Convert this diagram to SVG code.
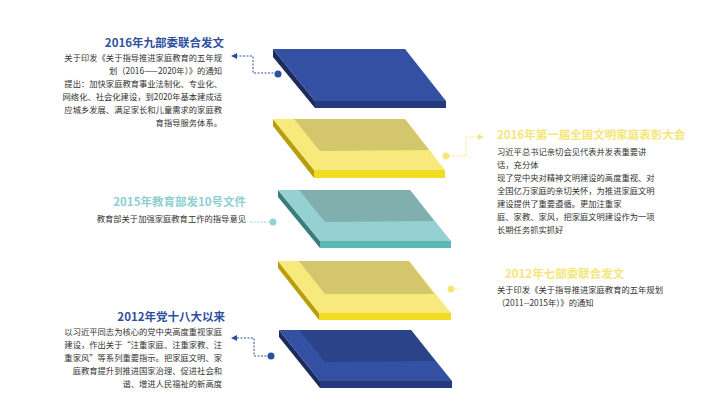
<svg xmlns="http://www.w3.org/2000/svg" width="720" height="405" viewBox="0 0 720 405">
<defs>
<style>
text{font-family:"Noto Sans CJK SC","Liberation Sans",sans-serif;}
.t{font-size:11.5px;font-weight:bold;}
.b{font-size:8.3px;fill:#333;}
.r{text-anchor:end;}
.dn{fill:none;stroke-width:1;stroke-dasharray:2,1.5;}
</style>
<marker id="an" markerWidth="6" markerHeight="6" refX="5" refY="3" orient="auto"><path d="M0,0L6,3L0,6z" fill="#2f4f9e"/></marker>
<marker id="ay" markerWidth="6" markerHeight="6" refX="5" refY="3" orient="auto"><path d="M0,0L6,3L0,6z" fill="#f5e67a"/></marker>
</defs>
<rect width="720" height="405" fill="#fff"/>
<g id="slab1">
<polygon points="273,49 315,101 315,108 273,57" fill="#1d2b5c"/>
<polygon points="315,101 446,101 446,108 315,108" fill="#26397a"/>
<polygon points="273,49 405,49 446,101 315,101" fill="#3350a2"/>
</g>
<g id="slab2">
<polygon points="273,119 314,170 314,178 273,126" fill="#b89f0a"/>
<polygon points="314,170 445,170 445,178 314,178" fill="#f2dc22"/>
<polygon points="273,119 405,119 445,170 314,170" fill="#f7e97b"/>
<polygon points="294,119 405,119 429,150 320,151" fill="#d4c66c"/>
</g>
<g id="slab3">
<polygon points="278,190 320,241 320,248 278,197" fill="#3a7e7c"/>
<polygon points="320,241 451,241 451,248 320,248" fill="#5bb8b4"/>
<polygon points="278,190 410,190 451,241 320,241" fill="#95d1d2"/>
<polygon points="299,190 410,190 434,221 325,222" fill="#80afae"/>
</g>
<g id="slab4">
<polygon points="278,261 319,313 319,320 278,268" fill="#b89f0a"/>
<polygon points="319,313 451,313 451,320 319,320" fill="#f2dc22"/>
<polygon points="278,261 409,261 451,313 319,313" fill="#f7e97b"/>
<polygon points="299,261 409,261 434,294 325,294" fill="#d4c66c"/>
</g>
<g id="slab5">
<polygon points="279,330 320,381 320,388 279,337" fill="#1d2b5c"/>
<polygon points="320,381 452,381 452,388 320,388" fill="#26397a"/>
<polygon points="279,330 411,330 452,381 320,381" fill="#3350a2"/>
<polygon points="299,330 411,330 435,361 325,362" fill="#2b4489"/>
</g>
<g id="connectors">
<path class="dn" d="M277,73H253V56H232" stroke="#2f4f9e" marker-end="url(#an)"/>
<circle cx="278" cy="74" r="3.5" fill="#2f4f9e"/>
<path class="dn" d="M446,156H466V137H483" stroke="#f5e67a" marker-end="url(#ay)"/>
<circle cx="446" cy="156" r="3.5" fill="#f5e67a"/>
<path class="dn" d="M273,222H250" stroke="#95d1d2"/>
<circle cx="273" cy="222" r="3.5" fill="#95d1d2"/>
<path class="dn" d="M451,289H460" stroke="#f5e67a"/>
<circle cx="451" cy="289" r="3.5" fill="#f5e67a"/>
<path class="dn" d="M270,356H254V338H232" stroke="#2f4f9e" marker-end="url(#an)"/>
<circle cx="271" cy="356" r="3.5" fill="#2f4f9e"/>
</g>
<g id="text1">
<text class="t r" x="224" y="47" fill="#2f4f9e">2016年九部委联合发文</text>
<text class="b r" x="222" y="61">关于印发《关于指导推进家庭教育的五年规</text>
<text class="b r" x="222" y="74">划（2016——2020年）》的通知</text>
<text class="b r" x="222" y="87">提出：加快家庭教育事业法制化、专业化、</text>
<text class="b r" x="222" y="100">网络化、社会化建设，到2020年基本建成适</text>
<text class="b r" x="222" y="113">应城乡发展、满足家长和儿童需求的家庭教</text>
<text class="b r" x="222" y="126">育指导服务体系。</text>
</g>
<g id="text2">
<text class="t" x="497" y="139" fill="#f5e67a">2016年第一届全国文明家庭表彰大会</text>
<text class="b" x="497" y="155">习近平总书记亲切会见代表并发表重要讲</text>
<text class="b" x="497" y="168">话，充分体</text>
<text class="b" x="497" y="181">现了党中央对精神文明建设的高度重视、对</text>
<text class="b" x="497" y="194">全国亿万家庭的亲切关怀，为推进家庭文明</text>
<text class="b" x="497" y="207">建设提供了重要遵循。更加注重家</text>
<text class="b" x="497" y="220">庭、家教、家风，把家庭文明建设作为一项</text>
<text class="b" x="497" y="233">长期任务抓实抓好</text>
</g>
<g id="text3">
<text class="t r" x="246" y="206" fill="#8ecfd0">2015年教育部发10号文件</text>
<text class="b r" x="246" y="222">教育部关于加强家庭教育工作的指导意见</text>
</g>
<g id="text4">
<text class="t" x="505" y="278" fill="#f5e67a">2012年七部委联合发文</text>
<text class="b" x="497" y="293">关于印发《关于指导推进家庭教育的五年规划</text>
<text class="b" x="497" y="306">（2011--2015年）》的通知</text>
</g>
<g id="text5">
<text class="t r" x="225" y="321" fill="#2f4f9e">2012年党十八大以来</text>
<text class="b r" x="222" y="335">以习近平同志为核心的党中央高度重视家庭</text>
<text class="b r" x="222" y="348">建设，作出关于“注重家庭、注重家教、注</text>
<text class="b r" x="222" y="361">重家风”等系列重要指示。把家庭文明、家</text>
<text class="b r" x="222" y="374">庭教育提升到推进国家治理、促进社会和</text>
<text class="b r" x="222" y="387">谐、增进人民福祉的新高度</text>
</g>
</svg>
